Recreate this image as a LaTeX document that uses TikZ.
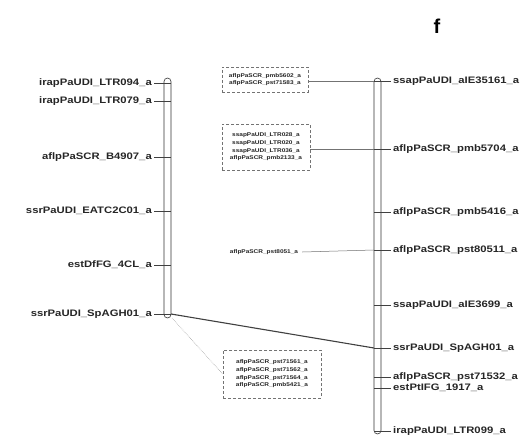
\documentclass[tikz,border=0pt]{standalone}
\usepackage{fontspec}
\setmainfont{Liberation Sans}
\newfontfamily\labfont[FakeStretch=1.2]{Liberation Sans}
\begin{document}
\begin{tikzpicture}[x=1pt,y=-1pt,
  chrom/.style={draw=black!80, line width=0.6pt, rounded corners=3.5pt, minimum width=7pt, inner sep=0pt},
  lab/.style={font=\labfont\bfseries\fontsize{9.4}{11}\selectfont, inner sep=0pt, text=black!85},
  small/.style={font=\labfont\bfseries\fontsize{5.4}{7.6}\selectfont, inner sep=0pt, text=black!85, align=center},
  grpbox/.style={draw=black!55, densely dashed, line width=0.6pt, inner sep=0pt},
  tickline/.style={draw=black!75, line width=0.5pt},
  link/.style={draw=black!55, line width=0.5pt},
  thicklink/.style={draw=black!75, line width=1.1pt},
  dotlink/.style={draw=black!35, densely dotted, line width=0.6pt}]
\useasboundingbox (0,0) rectangle (527,441);
\fill[white] (0,0) rectangle (527,441);
% panel letter
\node[font=\bfseries\fontsize{20}{24}\selectfont] (f) at (437,26) {f};
% chromosomes
\node[chrom, minimum height=240pt] (L) at (167.5,198) {};
\node[chrom, minimum height=356pt] (R) at (377.5,256) {};
% left markers
\node[lab, anchor=east] (l1) at (152,83) {irapPaUDI\_LTR094\_a};
\node[lab, anchor=east] (l2) at (152,101) {irapPaUDI\_LTR079\_a};
\node[lab, anchor=east] (l3) at (152,157) {aflpPaSCR\_B4907\_a};
\node[lab, anchor=east] (l4) at (152,211) {ssrPaUDI\_EATC2C01\_a};
\node[lab, anchor=east] (l5) at (152,265) {estDfFG\_4CL\_a};
\node[lab, anchor=east] (l6) at (152,314) {ssrPaUDI\_SpAGH01\_a};
\coordinate (lc1) at (171,83);
\coordinate (lc2) at (171,101);
\coordinate (lc3) at (171,157);
\coordinate (lc4) at (171,211);
\coordinate (lc5) at (171,265);
\coordinate (lc6) at (171,314);
\foreach \i in {1,...,6} {\draw[tickline] ([xshift=2pt]l\i.east) -- (lc\i);}
% right markers
\node[lab, anchor=west] (r1) at (393,81) {ssapPaUDI\_aIE35161\_a};
\node[lab, anchor=west] (r2) at (393,149) {aflpPaSCR\_pmb5704\_a};
\node[lab, anchor=west] (r3) at (393,212) {aflpPaSCR\_pmb5416\_a};
\node[lab, anchor=west] (r4) at (393,250) {aflpPaSCR\_pst80511\_a};
\node[lab, anchor=west] (r5) at (393,305) {ssapPaUDI\_aIE3699\_a};
\node[lab, anchor=west] (r6) at (393,348) {ssrPaUDI\_SpAGH01\_a};
\node[lab, anchor=west] (r7) at (393,377) {aflpPaSCR\_pst71532\_a};
\node[lab, anchor=west] (r8) at (393,388) {estPtIFG\_1917\_a};
\node[lab, anchor=west] (r9) at (393,431) {irapPaUDI\_LTR099\_a};
\coordinate (rc1) at (374,81);
\coordinate (rc2) at (374,149);
\coordinate (rc3) at (374,212);
\coordinate (rc4) at (374,250);
\coordinate (rc5) at (374,305);
\coordinate (rc6) at (374,348);
\coordinate (rc7) at (374,377);
\coordinate (rc8) at (374,388);
\coordinate (rc9) at (374,431);
\foreach \i in {1,...,9} {\draw[tickline] (rc\i) -- ([xshift=-2pt]r\i.west);}
% grouped marker boxes
\node[grpbox, minimum width=86pt, minimum height=25pt] (b1) at (265,79.5) {};
\node[small] (t1) at (b1.center) {aflpPaSCR\_pmb5602\_a\\aflpPaSCR\_pst71583\_a};
\node[grpbox, minimum width=88pt, minimum height=46pt] (b2) at (266,147) {};
\node[small] (t2) at (b2.center) {ssapPaUDI\_LTR028\_a\\ssapPaUDI\_LTR020\_a\\ssapPaUDI\_LTR036\_a\\aflpPaSCR\_pmb2133\_a};
\node[small] (m1) at (264,252) {aflpPaSCR\_pst8051\_a};
\node[grpbox, minimum width=98pt, minimum height=48pt] (b4) at (272,374) {};
\node[small] (t4) at (b4.center) {aflpPaSCR\_pst71561\_a\\aflpPaSCR\_pst71562\_a\\aflpPaSCR\_pst71564\_a\\aflpPaSCR\_pmb5421\_a};
% connectors
\draw[link] (b1.east |- rc1) -- (rc1);
\draw[link] (b2.east |- rc2) -- (rc2);
\draw[link] ([xshift=4pt]m1.east) -- (rc4);
\draw[thicklink] (lc6) -- (rc6);
\coordinate (lb) at (172,318);
\draw[dotlink] (lb) -- (b4.west);
\end{tikzpicture}
\end{document}
